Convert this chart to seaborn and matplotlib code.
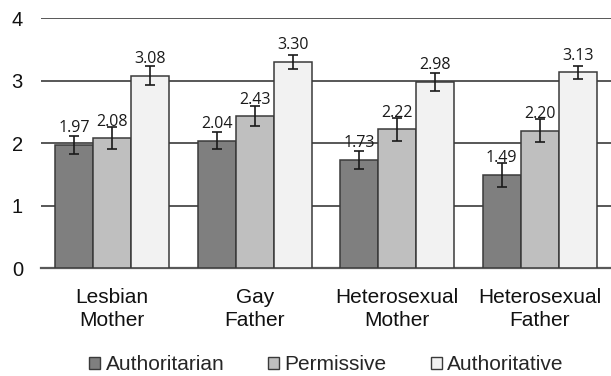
import numpy as np
import pandas as pd
import matplotlib
matplotlib.use("Agg")
import matplotlib.pyplot as plt
import seaborn as sns

# data
groups = ["Lesbian\nMother", "Gay\nFather", "Heterosexual\nMother", "Heterosexual\nFather"]
styles = ["Authoritarian", "Permissive", "Authoritative"]
authoritarian = [1.97, 2.04, 1.73, 1.49]
permissive = [2.08, 2.43, 2.22, 2.20]
authoritative = [3.08, 3.30, 2.98, 3.13]
err_authoritarian = [0.15, 0.14, 0.14, 0.19]
err_permissive = [0.17, 0.16, 0.18, 0.18]
err_authoritative = [0.15, 0.11, 0.14, 0.10]

colors = ["#7f7f7f", "#bfbfbf", "#f2f2f2"]

df = pd.DataFrame({
    "group": groups * 3,
    "style": [s for s in styles for _ in groups],
    "score": authoritarian + permissive + authoritative,
})
errs = [err_authoritarian, err_permissive, err_authoritative]

sns.set_style("white")
plt.rcParams["font.family"] = ["Liberation Sans", "DejaVu Sans"]

fig = plt.figure(figsize=(6.11, 3.76), dpi=100)
ax = fig.add_axes([0.067, 0.287, 0.933, 0.665])

sns.barplot(data=df, x="group", y="score", hue="style", palette=colors,
            edgecolor="#3a3a3a", linewidth=1.1, width=0.8, errorbar=None,
            legend=False, ax=ax, zorder=3)

# error bars + value labels
for cont, e in zip(ax.containers, errs):
    xs = [p.get_x() + p.get_width() / 2 for p in cont]
    hs = [p.get_height() for p in cont]
    ax.errorbar(xs, hs, yerr=e, fmt="none", ecolor="#1a1a1a",
                elinewidth=1.2, capsize=3.6, capthick=1.2, zorder=4)
    for x, h in zip(xs, hs):
        ax.text(x, h + 0.2, f"{h:.2f}", ha="center", va="baseline",
                fontsize=11.5, family=["Open Sans", "DejaVu Sans"],
                color="#1a1a1a", zorder=5)

ax.set_ylim(0, 4)
ax.set_xlim(-0.5, 3.5)
ax.set_yticks([0, 1, 2, 3, 4])
ax.yaxis.grid(True, color="#2a2a2a", linewidth=1.1)
ax.set_axisbelow(True)
for s in ["top", "right", "left"]:
    ax.spines[s].set_visible(False)
ax.spines["bottom"].set_color("#595959")
ax.spines["bottom"].set_linewidth(1.6)
ax.tick_params(axis="y", length=0, pad=13, labelsize=14.5, labelcolor="#111111")
ax.tick_params(axis="x", length=0, pad=14, labelsize=15, labelcolor="#111111")
for lab in ax.get_xticklabels():
    lab.set_linespacing(1.3)
ax.set_xlabel("")
ax.set_ylabel("")

handles = [plt.Rectangle((0, 0), 1, 1, facecolor=c, edgecolor="#3a3a3a", linewidth=1)
           for c in colors]
fig.legend(handles, styles, loc="center", bbox_to_anchor=(0.534, 0.03), ncol=3,
           frameon=False, fontsize=15, handlelength=0.55, handleheight=0.55,
           handletextpad=0.25, columnspacing=2.1, borderpad=0)

fig.savefig("out.png", dpi=100)
